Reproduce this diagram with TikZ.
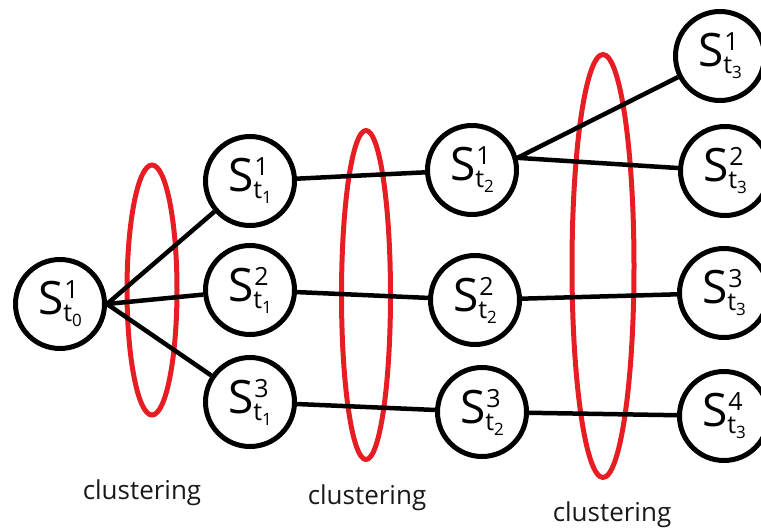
\documentclass[tikz,border=0pt]{standalone}
\usepackage{fontspec}
\setmainfont{Open Sans}
\usetikzlibrary{shapes.geometric}

% state label: S with a time subscript and an index superscript
\newcommand\stlabel[2]{S\rlap{\kern1pt\raisebox{16pt}{\fontsize{25}{25}\selectfont #1}}\raisebox{-7pt}{\fontsize{25}{25}\selectfont t\raisebox{-5pt}{\fontsize{17}{17}\selectfont #2}}}

\definecolor{clred}{RGB}{230,30,36}
\tikzset{
  state/.style={circle, draw=black, line width=5pt, minimum size=89pt, inner sep=0pt,
    font=\fontsize{46}{46}\selectfont, fill=white},
  link/.style={line width=4.5pt, black},
  cluster/.style={draw=clred, line width=5pt},
  tag/.style={font=\fontsize{26}{26}\selectfont, inner sep=0pt, text=black!90}
}

\begin{document}
\begin{tikzpicture}[x=1pt, y=-1pt]
\useasboundingbox (0,0) rectangle (761,530);

% clustering ellipses
\draw[cluster] (152,290) ellipse [x radius=25, y radius=125];
\draw[cluster] (366,295) ellipse [x radius=24.5, y radius=164.5];
\draw[cluster] (603,266) ellipse [x radius=31, y radius=211.5];

% states
\node[state] (s0)  at (60,304)  {\stlabel{1}{0}};
\node[state] (s1a) at (250,181) {\stlabel{1}{1}};
\node[state] (s1b) at (250,290) {\stlabel{2}{1}};
\node[state] (s1c) at (250,402) {\stlabel{3}{1}};
\node[state] (s2a) at (472,170) {\stlabel{1}{2}};
\node[state] (s2b) at (475,300) {\stlabel{2}{2}};
\node[state] (s2c) at (482,412) {\stlabel{3}{2}};
\node[state] (s3a) at (720,56)  {\stlabel{1}{3}};
\node[state] (s3b) at (725,171) {\stlabel{2}{3}};
\node[state] (s3c) at (724,293) {\stlabel{3}{3}};
\node[state] (s3d) at (724,416) {\stlabel{4}{3}};

% transitions
\draw[link] (s0.east) -- (s1a);
\draw[link] (s0.east) -- (s1b);
\draw[link] (s0.east) -- (s1c);
\draw[link] (s1a) -- (s2a);
\draw[link] (s1b) -- (s2b);
\draw[link] (s1c) -- (s2c);
\draw[link] (s2a.15) -- (s3a);
\draw[link] (s2a.15) -- (s3b);
\draw[link] (s2b) -- (s3c);
\draw[link] (s2c) -- (s3d);

% captions
\node[tag] (c1) at (142,493) {clustering};
\node[tag] (c2) at (367,498) {clustering};
\node[tag] (c3) at (612,515) {clustering};
\end{tikzpicture}
\end{document}
